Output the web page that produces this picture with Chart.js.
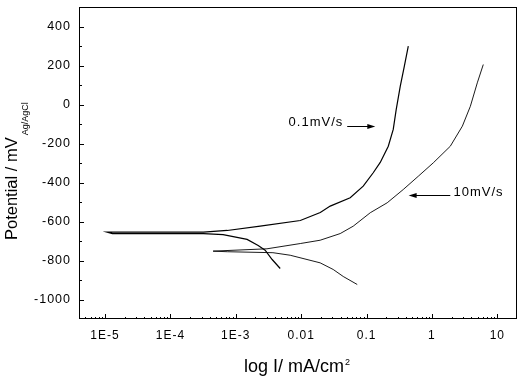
<!DOCTYPE html>
<html>
<head>
<meta charset="utf-8">
<script src="https://cdn.jsdelivr.net/npm/chart.js@4.4.1/dist/chart.umd.min.js"></script>
<style>
  html, body { margin: 0; padding: 0; background: #fff; }
  #wrap { width: 520px; height: 382px; }
</style>
</head>
<body>
<div id="wrap"><canvas id="chart" width="520" height="382"></canvas></div>
<script>
// Polarization curves: current density (mA/cm2) vs potential (mV)
// points run from the cathodic end, through Ecorr, up the anodic branch
const slowCurrent = [4.78e-3, 3.6e-3, 2.81e-3, 2.2e-3, 1.49e-3, 6.4e-4, 3.2e-4, 1.3e-5, 1.07e-5, 3.2e-4,
    7.4e-4, 2.36e-3, 9.7e-3, 0.0196, 0.0278, 0.0562, 0.0889, 0.1265, 0.162, 0.215, 0.256, 0.284, 0.328, 0.378, 0.435];
const slowPotential = [-841, -795, -747, -723, -692, -667, -662, -662, -654, -654,
    -646, -624, -595, -554, -521, -478, -419, -350, -297, -214, -128, -26, 94, 196, 299];

const fastCurrent = [0.072, 0.044, 0.0309, 0.0195, 6.8e-3, 3.7e-3, 7.4e-4, 4.5e-4,
    3.0e-3, 9.7e-3, 0.0195, 0.0395, 0.0625, 0.114, 0.207, 0.364, 0.618, 1.05, 1.91, 2.92, 3.87, 4.94, 6.1];
const fastPotential = [-923, -882, -846, -812, -773, -760, -755, -752,
    -740, -713, -696, -662, -624, -555, -504, -436, -368, -299, -214, -111, -9, 111, 205];

const seriesNames = ['0.1mV/s', '10mV/s'];

// axis ticks
const xTickValues = [1e-5, 1e-4, 1e-3, 0.01, 0.1, 1, 10];
const xTickLabels = ['1E-5', '1E-4', '1E-3', '0.01', '0.1', '1', '10'];
const yTickValues = [-1000, -800, -600, -400, -200, 0, 200, 400];

// arrow labels, placed in data units
const notes = [
    { text: seriesNames[0], at: [0.044, -92], align: 'right', from: [0.0506, -112], to: [0.136, -112] },
    { text: seriesNames[1], at: [2.14, -453], align: 'left', from: [1.91, -465], to: [0.44, -465] }
];

const FONT = '"Liberation Sans", Arial, sans-serif';
Chart.defaults.font.family = FONT;
Chart.defaults.color = '#000';

const toPoints = (xs, ys) => xs.map((v, i) => ({ x: v, y: ys[i] }));

// ticks point inwards, box on all four sides, titles with sub/superscripts
const framePlugin = {
    id: 'frame',
    beforeDraw(chart) {
        chart.ctx.letterSpacing = '1px';
    },
    afterDraw(chart) {
        const { ctx, chartArea: a, scales: { x, y } } = chart;
        ctx.save();
        ctx.letterSpacing = '0px';
        ctx.strokeStyle = '#000';
        ctx.fillStyle = '#000';
        ctx.lineWidth = 1;
        ctx.strokeRect(a.left + 0.5, a.top + 0.5, a.right - a.left - 1, a.bottom - a.top - 1);

        ctx.beginPath();
        yTickValues.forEach((v) => {
            const py = Math.round(y.getPixelForValue(v)) + 0.5;
            ctx.moveTo(a.left, py); ctx.lineTo(a.left + 5, py);
            const mv = v + 100;
            if (mv < y.max) {
                const pm = Math.round(y.getPixelForValue(mv)) + 0.5;
                ctx.moveTo(a.left, pm); ctx.lineTo(a.left + 3, pm);
            }
        });
        xTickValues.forEach((v) => {
            const px = Math.round(x.getPixelForValue(v)) + 0.5;
            ctx.moveTo(px, a.bottom); ctx.lineTo(px, a.bottom - 5);
        });
        for (let d = 1e-6; d <= 10; d *= 10) {
            for (let k = 2; k <= 9; k++) {
                const v = k * d;
                if (v <= x.min || v >= x.max) continue;
                const px = Math.round(x.getPixelForValue(v)) + 0.5;
                ctx.moveTo(px, a.bottom); ctx.lineTo(px, a.bottom - 2);
            }
        }
        ctx.stroke();

        // arrow annotations
        ctx.font = '13px ' + FONT;
        ctx.letterSpacing = '1px';
        ctx.textBaseline = 'middle';
        notes.forEach((n) => {
            ctx.textAlign = n.align;
            ctx.fillText(n.text, x.getPixelForValue(n.at[0]), y.getPixelForValue(n.at[1]));
            const x0 = x.getPixelForValue(n.from[0]);
            const x1 = x.getPixelForValue(n.to[0]);
            const py = Math.round(y.getPixelForValue(n.to[1])) + 0.5;
            const dir = Math.sign(x1 - x0);
            ctx.beginPath();
            ctx.moveTo(x0, py); ctx.lineTo(x1 - dir * 4, py);
            ctx.stroke();
            ctx.beginPath();
            ctx.moveTo(x1, py);
            ctx.lineTo(x1 - dir * 8, py - 2.5);
            ctx.lineTo(x1 - dir * 8, py + 2.5);
            ctx.closePath();
            ctx.fill();
        });
        ctx.letterSpacing = '0px';

        // y title: Potential / mV with Ag/AgCl subscript
        ctx.save();
        ctx.translate(17, 240);
        ctx.rotate(-Math.PI / 2);
        ctx.textAlign = 'left';
        ctx.textBaseline = 'alphabetic';
        ctx.font = '16.5px ' + FONT;
        const mainY = 'Potential / mV';
        ctx.fillText(mainY, 0, 0);
        const wy = ctx.measureText(mainY).width;
        ctx.font = '9px ' + FONT;
        ctx.fillText('Ag/AgCl', wy + 2, 11);
        ctx.restore();

        // x title: log I/ mA/cm2
        ctx.textAlign = 'left';
        ctx.textBaseline = 'alphabetic';
        ctx.font = '18px ' + FONT;
        const mainX = 'log I/ mA/cm';
        ctx.fillText(mainX, 244, 372);
        const wx = ctx.measureText(mainX).width;
        ctx.font = '9px ' + FONT;
        ctx.fillText('2', 244 + wx + 1, 365);
        ctx.restore();
    }
};

new Chart(document.getElementById('chart'), {
    type: 'scatter',
    data: {
        datasets: [
            {
                label: seriesNames[0],
                data: toPoints(slowCurrent, slowPotential),
                showLine: true,
                borderColor: '#000',
                borderWidth: 1.2,
                pointRadius: 0,
                tension: 0
            },
            {
                label: seriesNames[1],
                data: toPoints(fastCurrent, fastPotential),
                showLine: true,
                borderColor: '#000',
                borderWidth: 0.9,
                pointRadius: 0,
                tension: 0
            }
        ]
    },
    options: {
        responsive: false,
        animation: false,
        devicePixelRatio: 1,
        layout: { padding: { top: 7, right: 3, left: 0, bottom: 0 } },
        plugins: {
            legend: { display: false },
            tooltip: { enabled: false }
        },
        scales: {
            x: {
                type: 'logarithmic',
                min: 4e-6,
                max: 20,
                grid: { display: false, drawTicks: false },
                border: { display: false },
                afterBuildTicks: (scale) => { scale.ticks = xTickValues.map((v) => ({ value: v })); },
                afterFit: (scale) => {
                    scale.height = 63;
                    scale.paddingLeft = 0;
                    scale.paddingRight = 0;
                },
                ticks: {
                    autoSkip: false,
                    maxRotation: 0,
                    padding: 9,
                    font: { size: 12 },
                    callback: (value, index) => xTickLabels[index]
                }
            },
            y: {
                min: -1100,
                max: 500,
                grid: { display: false, drawTicks: false },
                border: { display: false },
                afterBuildTicks: (scale) => { scale.ticks = yTickValues.map((v) => ({ value: v })); },
                afterFit: (scale) => {
                    scale.width = 79;
                    scale.paddingTop = 0;
                    scale.paddingBottom = 0;
                },
                ticks: {
                    padding: 8,
                    font: { size: 12.5 },
                    callback: (value) => String(value)
                }
            }
        }
    },
    plugins: [framePlugin]
});
</script>
</body>
</html>
